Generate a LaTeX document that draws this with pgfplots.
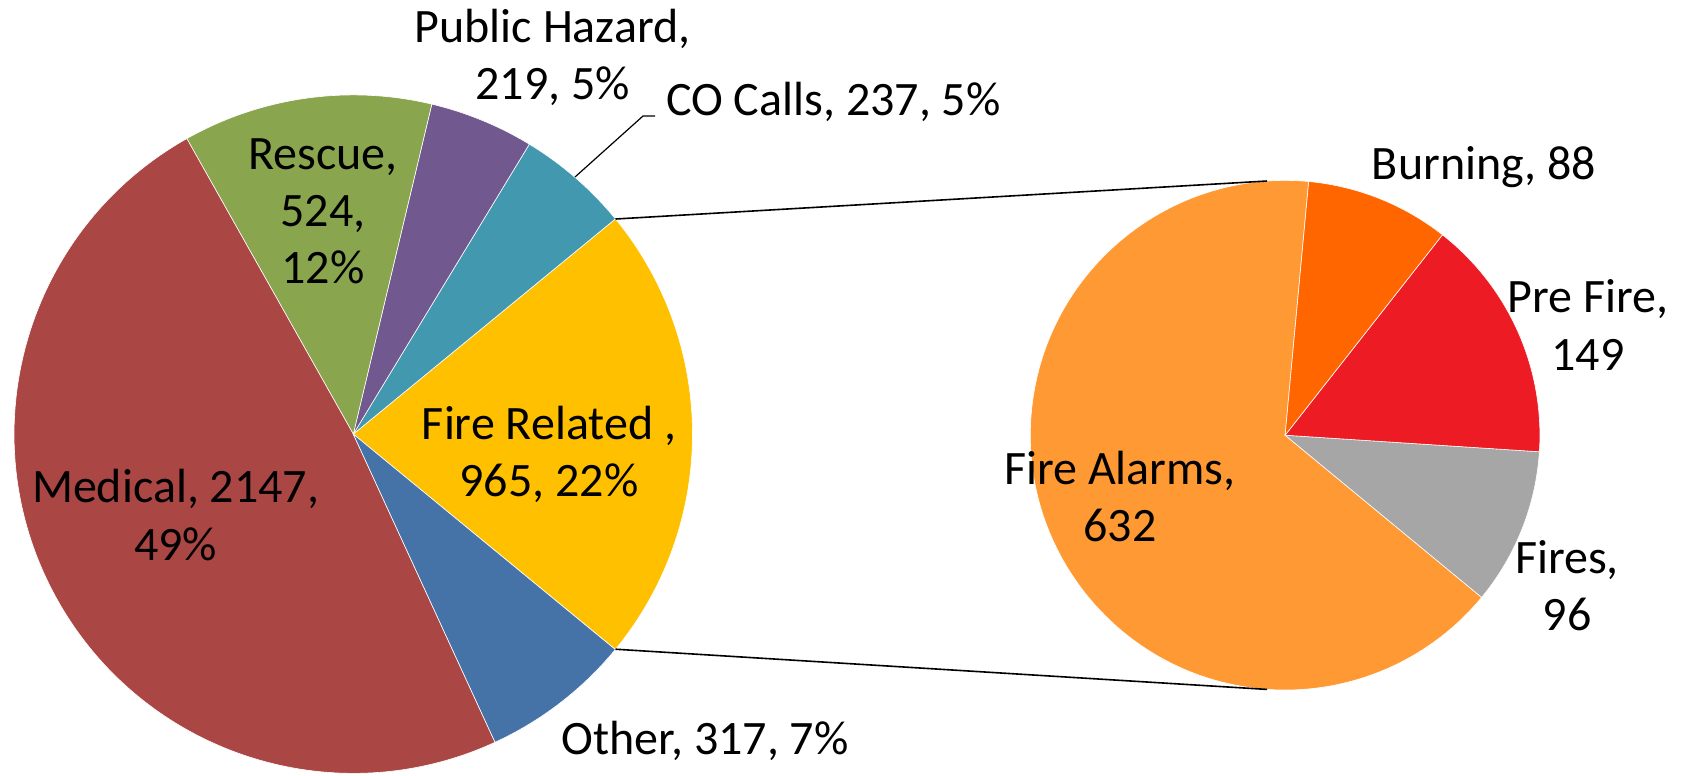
\documentclass[border=0pt]{standalone}
\usepackage{fontspec}
\setmainfont{Carlito}
\usepackage{pgfplots}
\pgfplotsset{compat=1.18}
\usepackage{pgfplotstable}

\definecolor{cMed}{HTML}{AA4643}
\definecolor{cRes}{HTML}{89A54E}
\definecolor{cHaz}{HTML}{71588F}
\definecolor{cCO}{HTML}{4198AF}
\definecolor{cFire}{HTML}{FFC000}
\definecolor{cOth}{HTML}{4572A7}
\definecolor{cAlarm}{HTML}{FF9933}
\definecolor{cBurn}{HTML}{FF6600}
\definecolor{cPre}{HTML}{ED1C24}
\definecolor{cFires}{HTML}{A6A6A6}

% main pie, counter-clockwise from the split slice
\pgfplotstableread{
name value
FireRelated 965
COCalls 237
PublicHazard 219
Rescue 524
Medical 2147
Other 317
}\maindata

% secondary pie (breakdown of Fire Related), counter-clockwise
\pgfplotstableread{
name value
FireAlarms 632
Fires 96
PreFire 149
Burning 88
}\firedata

% pie drawer: #1 table, #2 cx, #3 cy, #4 radius (pt), #5 start angle, #6 colour list
\newcommand\drawpie[6]{%
  \pgfplotstablegetrowsof{#1}\pgfmathtruncatemacro\nrows{\pgfplotsretval-1}%
  \gdef\pietot{0}%
  \foreach \i in {0,...,\nrows}{%
    \pgfplotstablegetelem{\i}{value}\of#1%
    \pgfmathsetmacro\t{\pietot+\pgfplotsretval}\xdef\pietot{\t}}%
  \xdef\pieang{#5}%
  \foreach \c [count=\k from 0] in {#6}{%
    \pgfplotstablegetelem{\k}{value}\of#1%
    \pgfmathsetmacro\aend{\pieang+\pgfplotsretval/\pietot*360}%
    \fill[\c, draw=white, line width=0.15pt] (axis cs:#2,#3) -- ++(\pieang:#4pt)
      arc[start angle=\pieang, end angle=\aend, radius=#4pt] -- cycle;
    \xdef\pieang{\aend}}%
}

\begin{document}
\begin{tikzpicture}[lbl/.style={align=center, font=\fontsize{12}{14.3}\selectfont}]
\begin{axis}[
  x=0.25pt, y=0.25pt,
  xmin=0, xmax=1689, ymin=0, ymax=775,
  hide axis, clip=false,
]
\pgfplotsextra{
  \coordinate (bl) at (axis cs:0,0);
  \coordinate (tr) at (axis cs:1689,775);
  % main pie: Fire Related centred on 0 degrees
  \drawpie{\maindata}{353.3}{340.9}{84.8}{-39.4}{cFire,cCO,cHaz,cRes,cMed,cOth}
  \drawpie{\firedata}{1285.1}{339.8}{63.7}{84.7}{cAlarm,cFires,cPre,cBurn}
  % connector lines
  \draw[black, line width=0.4pt] (axis cs:615.5,556.0) -- (axis cs:1267.0,594.0);
  \draw[black, line width=0.4pt] (axis cs:615.5,125.8) -- (axis cs:1267.0,85.6);
  % leader for CO Calls
  \draw[black, line width=0.3pt] (axis cs:575,598) -- (axis cs:643,659) -- (axis cs:655,659);

  \node[lbl] at (axis cs:552.6,717.4) {Public Hazard,\\219, 5\%};
  \node[lbl, anchor=west] at (axis cs:652,673) {CO Calls, 237, 5\%};
  \node[lbl] at (axis cs:323,564) {Rescue,\\524,\\12\%};
  \node[lbl] at (axis cs:175.6,260) {Medical, 2147,\\49\%};
  \node[lbl] at (axis cs:549,321) {Fire Related ,\\965, 22\%};
  \node[lbl] at (axis cs:705,34) {Other, 317, 7\%};
  \node[lbl] at (axis cs:1484,608) {Burning, 88};
  \node[lbl] at (axis cs:1588,450) {Pre Fire,\\149};
  \node[lbl] at (axis cs:1120,278.4) {Fire Alarms,\\632};
  \node[lbl] at (axis cs:1567,189) {Fires,\\96};
}
\end{axis}
\pgfresetboundingbox
\path (bl) rectangle (tr);
\end{tikzpicture}
\end{document}
